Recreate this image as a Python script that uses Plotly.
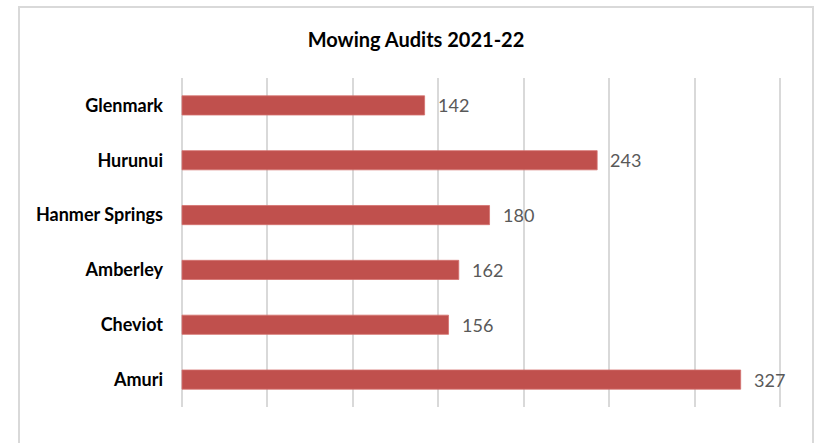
import plotly.graph_objects as go

# Mowing audit counts per area, listed top to bottom
areas = ["Glenmark", "Hurunui", "Hanmer Springs", "Amberley", "Cheviot", "Amuri"]
audits = [142, 243, 180, 162, 156, 327]
x_ticks = [0, 50, 100, 150, 200, 250, 300, 350]

W, H = 814, 443
L, R, T, B = 181, 33, 78, 36
PAD = 0.6  # small padding so the 0 and 350 grid lines are drawn

fig = go.Figure(
    go.Bar(
        x=audits,
        y=areas,
        orientation="h",
        width=0.35,
        marker=dict(color="#C0504D", line=dict(color="#D4716E", width=0.8)),
        hoverinfo="x+y",
    )
)

# value labels placed just past each bar end
for a, v in zip(areas, audits):
    fig.add_annotation(
        x=v, y=a, xref="x", yref="y", text=str(v), showarrow=False,
        xanchor="left", xshift=11, yshift=0,
        font=dict(family="Lato, Open Sans, sans-serif", size=18, color="#595959"),
    )

pw = W - L - R
ph = H - T - B
# light grey frame around the chart area
fig.add_shape(
    type="rect", xref="paper", yref="paper",
    x0=(19 - L) / pw, x1=(813 - L) / pw,
    y0=(H - B - 460) / ph, y1=(H - B - 7) / ph,
    line=dict(color="#D9D9D9", width=2), fillcolor="rgba(0,0,0,0)", layer="below",
)

fig.update_layout(
    width=W, height=H,
    margin=dict(l=L, r=R, t=T, b=B, autoexpand=False),
    paper_bgcolor="white", plot_bgcolor="white",
    showlegend=False,
    title=dict(
        text="<b>Mowing Audits 2021-22</b>",
        x=416 / W, xanchor="center", y=1 - 40 / H, yanchor="middle",
        font=dict(family="Lato, Open Sans, sans-serif", size=20, color="#000000"),
    ),
    xaxis=dict(
        range=[-PAD, 350 + PAD], tickvals=x_ticks, showticklabels=False,
        showgrid=True, gridcolor="#D9D9D9", gridwidth=1.5,
        zeroline=False, showline=False, fixedrange=True,
    ),
    yaxis=dict(
        categoryorder="array", categoryarray=areas[::-1],
        showgrid=False, zeroline=False, showline=False,
        ticks="", ticklabelstandoff=17,
        tickfont=dict(family="Lato, Open Sans, sans-serif", size=18, color="#000000", weight="bold"),
        fixedrange=True,
    ),
    bargap=0.65,
)

fig.write_html("out.html")
